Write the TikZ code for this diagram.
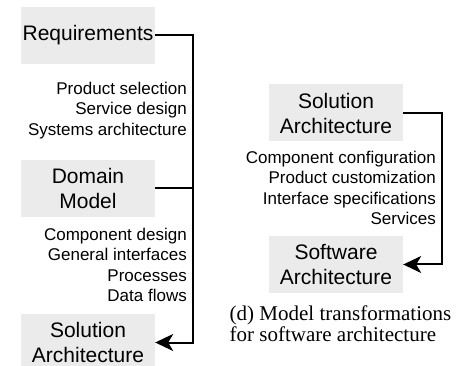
\documentclass[tikz,border=0pt]{standalone}
\usepackage{fontspec}
\setmainfont{Liberation Serif}
\setsansfont{Liberation Sans}
\usepackage{tikz}
\usetikzlibrary{arrows.meta,positioning,calc}
\definecolor{modelgray}{RGB}{235,235,235}

\begin{document}
\begin{tikzpicture}[
  x=1pt, y=-1pt,
  model/.style={fill=modelgray, minimum width=134pt, minimum height=57pt, text width=134pt, align=center, inner sep=0pt, font=\sffamily\fontsize{21}{25}\selectfont},
  trafo/.style={anchor=east, align=right, inner sep=0pt, font=\sffamily\fontsize{17}{20.5}\selectfont},
  flow/.style={line width=2pt, -{Stealth[length=18pt, width=17pt, inset=5pt]}},
  rail/.style={line width=2pt}
]
  \useasboundingbox (0,0) rectangle (474,366);

  % left chain
  \node[model] (req) at (88,35.5) {Requirements};
  \node[model] (dom) at (88,188.5) {Domain\\Model};
  \node[model] (solL) at (88,342.5) {Solution\\Architecture};

  \node[trafo] (tr1) at (187,110.5) {Product selection\\Service design\\Systems architecture};
  \node[trafo] (tr2) at (187,265) {Component design\\General interfaces\\Processes\\Data flows};

  \coordinate (railL) at (192.5,0);
  \draw[flow] (req.east) -- (req.east -| railL) -- (solL.east -| railL) -- (solL.east);
  \draw[rail] (dom.east) -- (dom.east -| railL);

  % right chain
  \node[model] (solR) at (336,113) {Solution\\Architecture};
  \node[model] (soft) at (336,264.5) {Software\\Architecture};

  \node[trafo] (tr3) at (436,188) {Component configuration\\Product customization\\Interface specifications\\Services};

  \coordinate (railR) at (441.5,0);
  \draw[flow] (solR.east) -- (solR.east -| railR) -- (soft.east -| railR) -- (soft.east);

  \node[anchor=west, align=left, inner sep=0pt, font=\fontsize{21}{21}\selectfont] (cap) at (229.5,323.5) {(d) Model transformations\\for software architecture};
\end{tikzpicture}
\end{document}
